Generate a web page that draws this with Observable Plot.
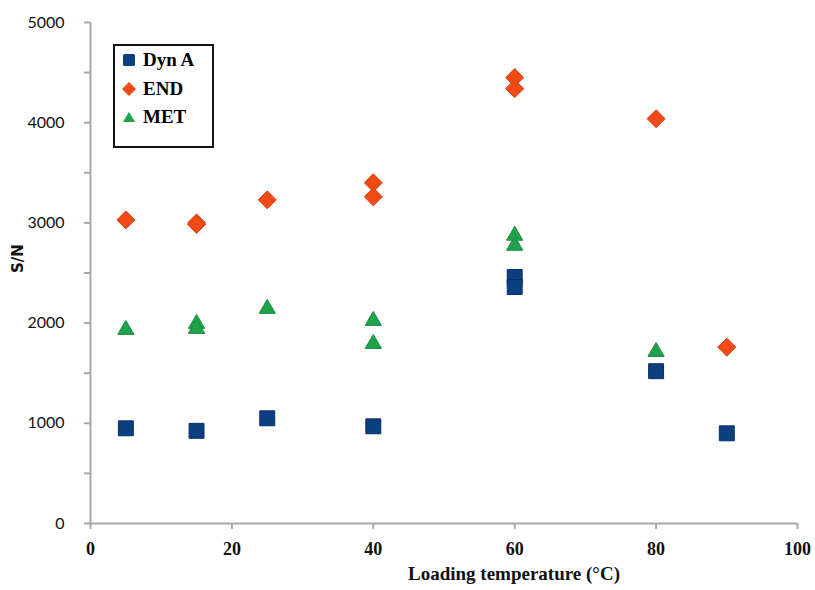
<!DOCTYPE html>
<html><head><meta charset="utf-8">
<script src="https://cdn.jsdelivr.net/npm/d3@7"></script>
<script src="https://cdn.jsdelivr.net/npm/@observablehq/plot@0.6"></script>
<style>
body{margin:0;background:#fff;}
#wrap{position:relative;width:815px;height:590px;}
#legend{position:absolute;left:113px;top:44px;width:97px;height:100px;border:2px solid #111;background:#fff;font-family:"Liberation Serif",serif;font-weight:bold;font-size:19px;}
#legend .it{position:absolute;left:6px;display:flex;align-items:center;gap:6px;}
</style></head><body>
<div id="wrap"></div>
<script>
// Data
const seriesNames = ["Dyn A", "END", "MET"];
const seriesColors = ["#0b3f7f", "#f24a17", "#1fa24c"];
const seriesStrokes = ["#062f63", "#d8400f", "#178a3f"];
const dynA_x = [5, 15, 25, 40, 60, 60, 80, 90];
const dynA_y = [950, 925, 1050, 970, 2460, 2360, 1520, 900];
const end_x = [5, 15, 15, 25, 40, 40, 60, 60, 80, 90];
const end_y = [3030, 3000, 2985, 3230, 3400, 3260, 4450, 4340, 4040, 1760];
const met_x = [5, 15, 15, 25, 40, 40, 60, 60, 80];
const met_y = [1950, 2010, 1960, 2160, 2040, 1810, 2890, 2790, 1730];
const xTicks = [0, 20, 40, 60, 80, 100];
const yTicks = [0, 1000, 2000, 3000, 4000, 5000];
const yMinorTicks = [0, 500, 1000, 1500, 2000, 2500, 3000, 3500, 4000, 4500, 5000];
const xLabel = "Loading temperature (°C)";
const yLabel = "S/N";

const mk = (xs, ys) => xs.map((x, i) => ({x, y: ys[i]}));
const dynA = mk(dynA_x, dynA_y), END = mk(end_x, end_y), MET = mk(met_x, met_y);

const square = {draw(c, size){ const r = Math.sqrt(size/Math.PI)*0.83; c.moveTo(-r,-r); c.lineTo(r,-r); c.lineTo(r,r); c.lineTo(-r,r); c.closePath(); }};
const diamond = {draw(c, size){ const r = Math.sqrt(size/Math.PI); c.moveTo(0,-r); c.lineTo(r,0); c.lineTo(0,r); c.lineTo(-r,0); c.closePath(); }};
const triangle = {draw(c, size){ const r = Math.sqrt(size/Math.PI); const h = r*1.55; c.moveTo(0,-h*0.55); c.lineTo(r*0.9,h*0.45); c.lineTo(-r*0.9,h*0.45); c.closePath(); }};

const axisColor = "#a8a8a8";
const plot = Plot.plot({
  width: 815, height: 590,
  marginLeft: 90, marginRight: 18, marginTop: 22, marginBottom: 67,
  x: {domain: [0, 100]},
  y: {domain: [0, 5000]},
  style: {background: "white", overflow: "visible"},
  marks: [
    Plot.axisY({ticks: yMinorTicks, tickSize: 6, tickFormat: () => "", stroke: axisColor, strokeWidth: 2, label: null}),
    Plot.axisY({ticks: yTicks, tickSize: 0, tickPadding: 26, tickFormat: d3.format("d"), label: null, fontSize: 16, fontFamily: "Lato, sans-serif", fill: "#111"}),
    Plot.axisX({ticks: xTicks, tickSize: 6, tickPadding: 13, label: null, stroke: axisColor, strokeWidth: 2, fontSize: 18, fontFamily: "Liberation Serif, serif", fontWeight: "bold", fill: "#111"}),
    Plot.ruleY([0], {stroke: axisColor, strokeWidth: 2}),
    Plot.ruleX([0], {stroke: axisColor, strokeWidth: 2}),
    Plot.text([yLabel], {frameAnchor: "left", dx: -72, rotate: -90, fontSize: 15, fontWeight: "bold", fontFamily: "DejaVu Sans, sans-serif", fill: "#111"}),
    Plot.text([xLabel], {frameAnchor: "bottom", dx: 70, dy: 56, fontSize: 19, fontWeight: "bold", fontFamily: "Liberation Serif, serif", fill: "#111"}),
    Plot.dot(dynA, {x: "x", y: "y", symbol: square, r: 9, fill: seriesColors[0], stroke: seriesStrokes[0], strokeWidth: 1}),
    Plot.dot(END, {x: "x", y: "y", symbol: diamond, r: 9, fill: seriesColors[1], stroke: seriesStrokes[1], strokeWidth: 1}),
    Plot.dot(MET, {x: "x", y: "y", symbol: triangle, r: 9, fill: seriesColors[2], stroke: seriesStrokes[2], strokeWidth: 1})
  ]
});
const wrap = document.getElementById("wrap");
wrap.appendChild(plot);

// legend
const leg = document.createElement("div");
leg.id = "legend";
const shapes = [
  '<rect x="2" y="2" width="12" height="12" rx="1.5"/>',
  '<path d="M8 1 L15 8 L8 15 L1 8 Z"/>',
  '<path d="M8 3 L14 13 L2 13 Z"/>'
];
const tops = [14, 43, 71];
seriesNames.forEach((n, i) => {
  const d = document.createElement("div");
  d.className = "it";
  d.style.top = (tops[i] - 11) + "px";
  d.innerHTML = `<svg width="16" height="16" style="fill:${seriesColors[i]}">${shapes[i]}</svg><span>${n}</span>`;
  leg.appendChild(d);
});
wrap.appendChild(leg);
</script>
</body></html>
